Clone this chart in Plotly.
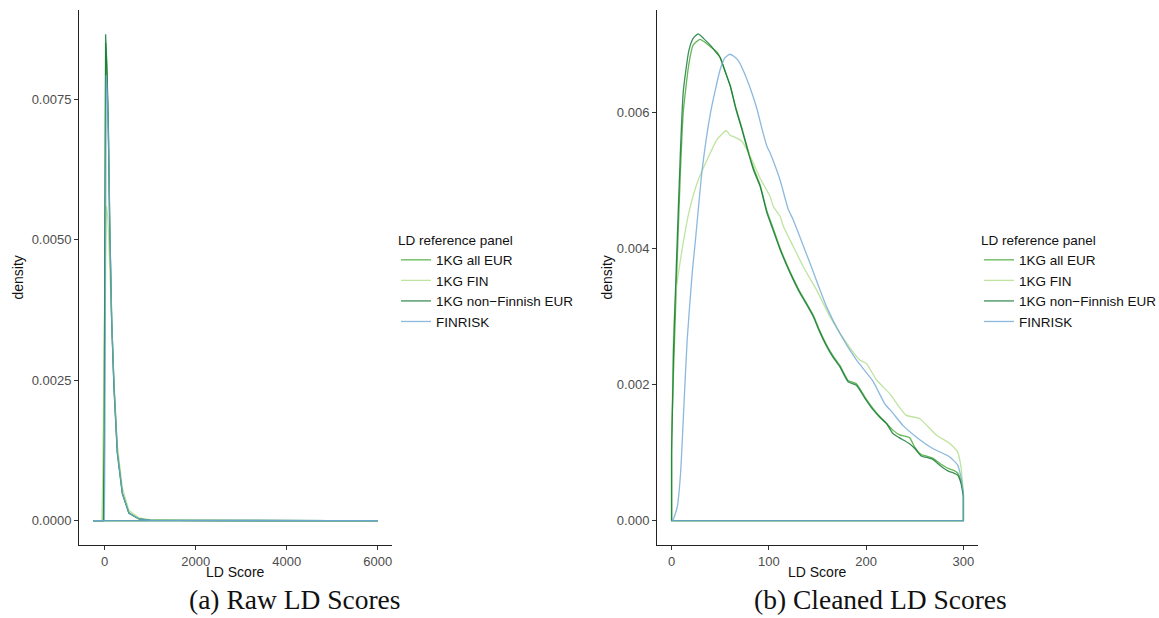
import plotly.graph_objects as go

series_names = ["1KG all EUR", "1KG FIN", "1KG non\u2212Finnish EUR", "FINRISK"]
series_colors = ["#3fa52e", "#b0de88", "#0b7530", "#70a8d6"]

# ---- Panel (a): raw LD score densities ----
raw_all_eur_x = [-250, -30, -10, 5, 25, 50, 81, 110, 154, 205, 279, 389, 534, 754, 1000, 1500, 2000, 3000, 4000, 5000, 6000]
raw_all_eur_y = [0, 0, 0.0015, 0.0065, 0.0085, 0.0080, 0.0070, 0.00535, 0.00360, 0.00242, 0.00125, 0.00050, 0.00014, 0.00003, 0.00001, 0.000005, 0.000003, 0.000002, 0.000001, 0.000001, 0]
raw_fin_x = [-250, -60, -40, 0, 40, 70, 100, 150, 205, 279, 389, 534, 754, 1000, 1500, 2000, 3000, 4000, 5000, 6000]
raw_fin_y = [0, 0, 0.0008, 0.0040, 0.0056, 0.0054, 0.0048, 0.0036, 0.00250, 0.00135, 0.00058, 0.00018, 0.00005, 0.00002, 0.000008, 0.000004, 0.000002, 0.000001, 0.000001, 0]
raw_nfe_x = [-250, -25, -8, 8, 22, 50, 81, 110, 154, 205, 279, 389, 534, 754, 1000, 1500, 2000, 3000, 4000, 5000, 6000]
raw_nfe_y = [0, 0, 0.0015, 0.0070, 0.00866, 0.0081, 0.0071, 0.00535, 0.00357, 0.00238, 0.00120, 0.00048, 0.00013, 0.00003, 0.00001, 0.000005, 0.000003, 0.000002, 0.000001, 0.000001, 0]
raw_finrisk_x = [-250, -5, 5, 20, 35, 60, 90, 120, 160, 210, 285, 395, 540, 760, 1000, 1500, 2000, 3000, 4000, 5000, 6000]
raw_finrisk_y = [0, 0, 0.0012, 0.0060, 0.00793, 0.0076, 0.0066, 0.0050, 0.00345, 0.00232, 0.00118, 0.00047, 0.00013, 0.00003, 0.00001, 0.000005, 0.000003, 0.000002, 0.000001, 0.000001, 0]

# ---- Panel (b): cleaned LD score densities ----
cl_all_eur_x = [0, 2, 5, 9, 12, 17.7, 22, 29, 35, 40, 46.8, 50, 55, 60.4, 66, 72.4, 78, 84.2, 91, 98, 105, 111.6, 118, 125, 132, 139, 145.6, 152, 159.4, 166, 173, 181.5, 190, 198.6, 207, 214, 220.8, 227.5, 234.4, 244.6, 250, 256.6, 262, 268.5, 277, 285.6, 290, 294, 297.5, 300]
cl_all_eur_y = [0.0012, 0.0022, 0.0035, 0.0051, 0.0060, 0.0067, 0.00698, 0.00707, 0.00702, 0.00696, 0.00688, 0.00680, 0.00660, 0.00638, 0.00607, 0.00576, 0.00547, 0.00518, 0.00493, 0.00455, 0.00427, 0.00400, 0.00378, 0.00356, 0.00336, 0.00319, 0.00302, 0.00280, 0.00258, 0.00242, 0.00228, 0.00206, 0.00201, 0.00182, 0.00165, 0.00153, 0.00143, 0.00133, 0.00126, 0.00122, 0.00108, 0.00097, 0.00095, 0.00092, 0.00083, 0.00076, 0.00074, 0.00070, 0.00058, 0.00040]
cl_fin_x = [0, 1.5, 4, 9.9, 17.7, 26.3, 36.5, 46.8, 52, 56.3, 60, 63.8, 72.4, 80.9, 91, 101.3, 104.7, 111.6, 115, 125, 135.4, 149, 162.7, 179.8, 193.4, 200.3, 210.5, 224, 241, 254.9, 272, 285.6, 294, 297.5, 300]
cl_fin_y = [0.0010, 0.0025, 0.0033, 0.0039, 0.00452, 0.00496, 0.00530, 0.00560, 0.00568, 0.00573, 0.00566, 0.00564, 0.00557, 0.00535, 0.00503, 0.00476, 0.00461, 0.00447, 0.00432, 0.00403, 0.00373, 0.00339, 0.00300, 0.00261, 0.00236, 0.00231, 0.00207, 0.00187, 0.00155, 0.00150, 0.00126, 0.00114, 0.00101, 0.00079, 0.00040]
cl_nfe_x = [0, 2, 5, 9, 12, 17.7, 22, 27.3, 33, 40, 45, 50, 55, 60.4, 66, 72.4, 78, 84.2, 91, 98, 105, 111.6, 118, 125, 132, 139, 145.6, 152, 159.4, 166, 173, 181.5, 190, 198.6, 207, 214, 220.8, 227.5, 234, 244.6, 250, 256.6, 262, 268.5, 277, 285.6, 290, 294, 297.5, 300]
cl_nfe_y = [0.0010, 0.0025, 0.0038, 0.0054, 0.0063, 0.0069, 0.00708, 0.00715, 0.00708, 0.00698, 0.00689, 0.00680, 0.00660, 0.00638, 0.00605, 0.00574, 0.00545, 0.00515, 0.00491, 0.00452, 0.00424, 0.00398, 0.00376, 0.00354, 0.00334, 0.00317, 0.00300, 0.00278, 0.00256, 0.00240, 0.00226, 0.00204, 0.00199, 0.00180, 0.00163, 0.00152, 0.00143, 0.00128, 0.00122, 0.00113, 0.00106, 0.00095, 0.00093, 0.00090, 0.00080, 0.00072, 0.00070, 0.00067, 0.00055, 0.00035]
cl_finrisk_x = [0, 1.7, 5.8, 9.2, 12.6, 16, 21.2, 24.6, 31.4, 40, 50, 55, 59.7, 64, 68.9, 77.5, 87.7, 93, 98, 101.3, 108, 111.6, 120, 125, 142.3, 159.4, 173, 190, 207, 219, 227.5, 237.8, 251.5, 268.5, 285.6, 294, 297.5, 300]
cl_finrisk_y = [0.0, 0.00002, 0.00020, 0.00069, 0.00167, 0.00265, 0.00364, 0.00413, 0.00515, 0.00599, 0.00663, 0.00680, 0.00685, 0.00682, 0.00675, 0.00648, 0.00605, 0.00575, 0.00550, 0.00540, 0.00515, 0.00500, 0.00457, 0.00442, 0.00378, 0.00314, 0.00275, 0.00236, 0.00205, 0.00172, 0.00158, 0.00140, 0.00123, 0.00106, 0.00094, 0.00082, 0.00064, 0.00040]

raw_x_ticks = [0, 2000, 4000, 6000]
raw_y_ticks = [0.0, 0.0025, 0.0050, 0.0075]
raw_y_ticklabels = ["0.0000", "0.0025", "0.0050", "0.0075"]
cl_x_ticks = [0, 100, 200, 300]
cl_y_ticks = [0.0, 0.002, 0.004, 0.006]
cl_y_ticklabels = ["0.000", "0.002", "0.004", "0.006"]

raw_series = [(raw_all_eur_x, raw_all_eur_y), (raw_fin_x, raw_fin_y), (raw_nfe_x, raw_nfe_y), (raw_finrisk_x, raw_finrisk_y)]
cl_series = [(cl_all_eur_x, cl_all_eur_y), (cl_fin_x, cl_fin_y), (cl_nfe_x, cl_nfe_y), (cl_finrisk_x, cl_finrisk_y)]

W, H = 1159, 618
fig = go.Figure()
OPAC = 0.8


def add_density(xs, ys, name, col, legend, xa, ya, shape):
    # density curve
    fig.add_trace(go.Scatter(x=list(xs), y=list(ys), mode="lines", name=name, legend=legend,
                             legendgroup=legend + name,
                             line=dict(color=col, width=1.3, shape=shape, smoothing=0.5),
                             opacity=OPAC, xaxis=xa, yaxis=ya))
    # closing outline of the density polygon (drop to zero, baseline, back up)
    fig.add_trace(go.Scatter(x=[xs[-1], xs[-1], xs[0], xs[0]], y=[ys[-1], 0, 0, ys[0]],
                             mode="lines", showlegend=False, legend=legend, legendgroup=legend + name,
                             line=dict(color=col, width=1.3), opacity=OPAC,
                             hoverinfo="skip", xaxis=xa, yaxis=ya))


for (xs, ys), name, col in zip(raw_series, series_names, series_colors):
    add_density(xs, ys, name, col, "legend", "x", "y", "linear")
for (xs, ys), name, col in zip(cl_series, series_names, series_colors):
    add_density(xs, ys, name, col, "legend2", "x2", "y2", "spline")

tickfont = dict(family="Liberation Sans, Arial, sans-serif", size=13, color="#4d4d4d")
axis_common = dict(showgrid=False, zeroline=False, showline=True, linecolor="#222222", linewidth=1,
                   ticks="outside", ticklen=4, tickcolor="#333333", tickwidth=1, tickfont=tickfont)


def px2x(p):
    return p / W


def px2y(p):
    return 1 - p / H


legend_common = dict(
    font=dict(family="Liberation Sans, Arial, sans-serif", size=13.5, color="#111111"),
    title=dict(text="LD reference panel", font=dict(family="Liberation Sans, Arial, sans-serif", size=13.5, color="#111111")),
    bgcolor="rgba(0,0,0,0)", itemwidth=30, tracegroupgap=0,
    xanchor="left", yanchor="top",
)

fig.update_layout(
    width=W, height=H,
    margin=dict(l=0, r=0, t=0, b=0, autoexpand=False),
    paper_bgcolor="white", plot_bgcolor="white",
    xaxis=dict(domain=[px2x(79), px2x(392)], range=[-562.5, 6312.5], tickvals=raw_x_ticks,
               anchor="y", **axis_common),
    yaxis=dict(domain=[px2y(545), px2y(10)], range=[-0.000433, 0.00909], tickvals=raw_y_ticks,
               ticktext=raw_y_ticklabels, anchor="x", **axis_common),
    xaxis2=dict(domain=[px2x(657), px2x(978)], range=[-15, 315], tickvals=cl_x_ticks,
                anchor="y2", **axis_common),
    yaxis2=dict(domain=[px2y(545), px2y(10)], range=[-0.000357, 0.0075], tickvals=cl_y_ticks,
                ticktext=cl_y_ticklabels, anchor="x2", **axis_common),
    legend=dict(x=px2x(396), y=px2y(227), **legend_common),
    legend2=dict(x=px2x(979), y=px2y(227), **legend_common),
    showlegend=True,
)

label_font = dict(family="Liberation Sans, Arial, sans-serif", size=14, color="#111111")
caption_font = dict(family="Liberation Serif, DejaVu Serif, serif", size=27.5, color="#111111")
ann = [
    dict(text="LD Score", x=(px2x(79) + px2x(392)) / 2, y=px2y(572), font=label_font),
    dict(text="LD Score", x=(px2x(657) + px2x(978)) / 2, y=px2y(572), font=label_font),
    dict(text="density", x=px2x(17), y=(px2y(545) + px2y(10)) / 2, font=label_font, textangle=-90),
    dict(text="density", x=px2x(606), y=(px2y(545) + px2y(10)) / 2, font=label_font, textangle=-90),
    dict(text="(a) Raw LD Scores", x=px2x(295), y=px2y(599), font=caption_font),
    dict(text="(b) Cleaned LD Scores", x=px2x(880), y=px2y(599), font=caption_font),
]
for a in ann:
    fig.add_annotation(xref="paper", yref="paper", showarrow=False, xanchor="center", yanchor="middle",
                       borderpad=0, **a)

fig.write_html("out.html")
